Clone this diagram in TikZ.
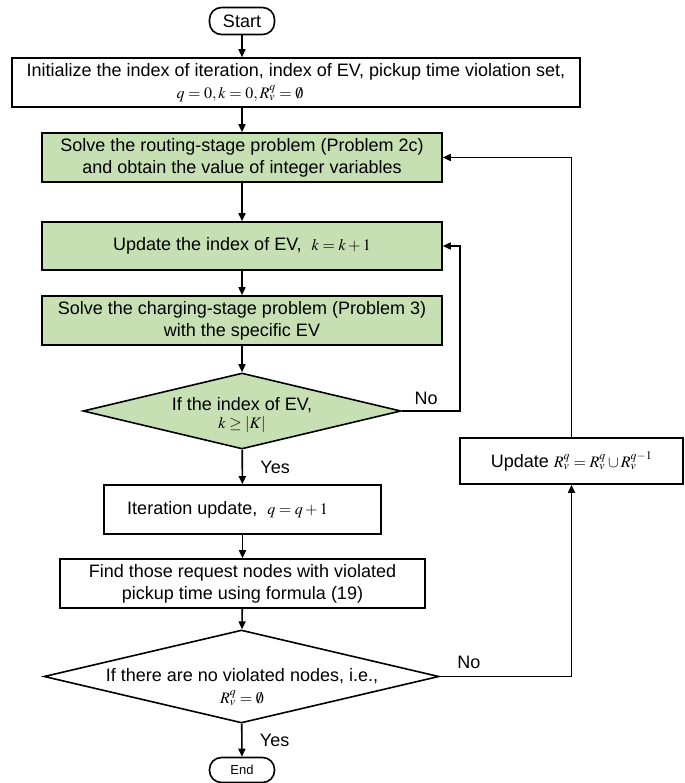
\documentclass[tikz,border=0pt]{standalone}
\usepackage{mathptmx}
\usepackage[no-math]{fontspec}
\setmainfont{Liberation Sans}
\usepackage{tikz}
\usetikzlibrary{arrows.meta,positioning,shapes.geometric}

\definecolor{stagegreen}{RGB}{198,224,180}
\newcommand{\mth}[1]{{\fontsize{16bp}{18bp}\selectfont$#1$}}

\begin{document}
\begin{tikzpicture}[x=1bp,y=-1bp,
    every node/.style={font=\fontsize{18bp}{22bp}\selectfont},
    box/.style={draw, line width=1.6bp, align=center, inner sep=2bp, minimum height=49bp},
    greenbox/.style={box, fill=stagegreen},
    term/.style={draw, line width=1.6bp, rounded corners=12bp, minimum width=65bp, minimum height=27bp, inner sep=0pt},
    decision/.style={draw, diamond, line width=1.6bp, inner sep=0pt},
    link/.style={line width=1.6bp, -{Triangle[length=8bp,width=7bp]}}]
    \useasboundingbox (0,0) rectangle (685,783);
    % main column
    \node[term] (start) at (242,21) {Start};
    \node[box, minimum width=568bp] (init) at (296,82.5)
      {Initialize the index of iteration, index of EV, pickup time violation set,\\
       \mth{q=0, k=0, R_v^q=\emptyset}\hspace*{112bp}};
    \node[greenbox, minimum width=400bp] (route) at (242,157.5)
      {Solve the routing-stage problem (Problem 2c)\\ and obtain the value of integer variables};
    \node[greenbox, minimum width=400bp, minimum height=48bp] (upd) at (242,246)
      {Update the index of EV,\ \ \mth{k=k+1}};
    \node[greenbox, minimum width=400bp] (charge) at (242,320.5)
      {Solve the charging-stage problem (Problem 3)\\ with the specific EV};
    \node[decision, fill=stagegreen, minimum width=318bp, minimum height=76bp] (chk) at (242,411) {};
    \node[align=center] (chktxt) at (242,415) {If the index of EV,\\[-4bp] \mth{k\geq|K|}};
    \node[box, minimum width=277bp] (iter) at (242.5,509.5)
      {Iteration update,\ \ \mth{q=q+1}\hspace{30bp}};
    \node[box, minimum width=365bp] (find) at (242.5,583.5)
      {Find those request nodes with violated\\ pickup time using formula (19)};
    \node[decision, minimum width=395bp, minimum height=93bp] (viol) at (241.5,676.5) {};
    \node[align=center] (violtxt) at (242,687) {If there are no violated nodes, i.e.,\\ \mth{R_v^q=\emptyset}};
    \node[term, minimum height=25bp, font=\fontsize{13bp}{15bp}\selectfont] (end) at (242,770) {End};
    % side column
    \node[box, minimum width=223bp, minimum height=46bp] (updR) at (571.5,461)
      {Update \mth{R_v^q=R_v^q\cup R_v^{q-1}}};
    \coordinate (loopk) at (460,0);
    % arrows
    \draw[link] (start) -- (init.north -| start);
    \draw[link] (route.north |- init.south) -- (route.north);
    \draw[link] (route) -- (upd);
    \draw[link] (upd) -- (charge);
    \draw[link] (charge) -- (chk);
    \draw[link] (chk) -- node[right=14bp]{Yes} (iter);
    \draw[link] (iter) -- (find);
    \draw[link] (find) -- (viol);
    \draw[link] (viol) -- node[right=14bp]{Yes} (end);
    \draw[link] (chk.east) -| node[pos=0.21, above=2bp]{No} (loopk |- upd.east) -- (upd.east);
    \draw[link] (viol.east) -| node[pos=0.11, above=4bp]{No} (updR.south);
    \draw[link] (updR.north) |- (route.east);
\end{tikzpicture}
\end{document}
